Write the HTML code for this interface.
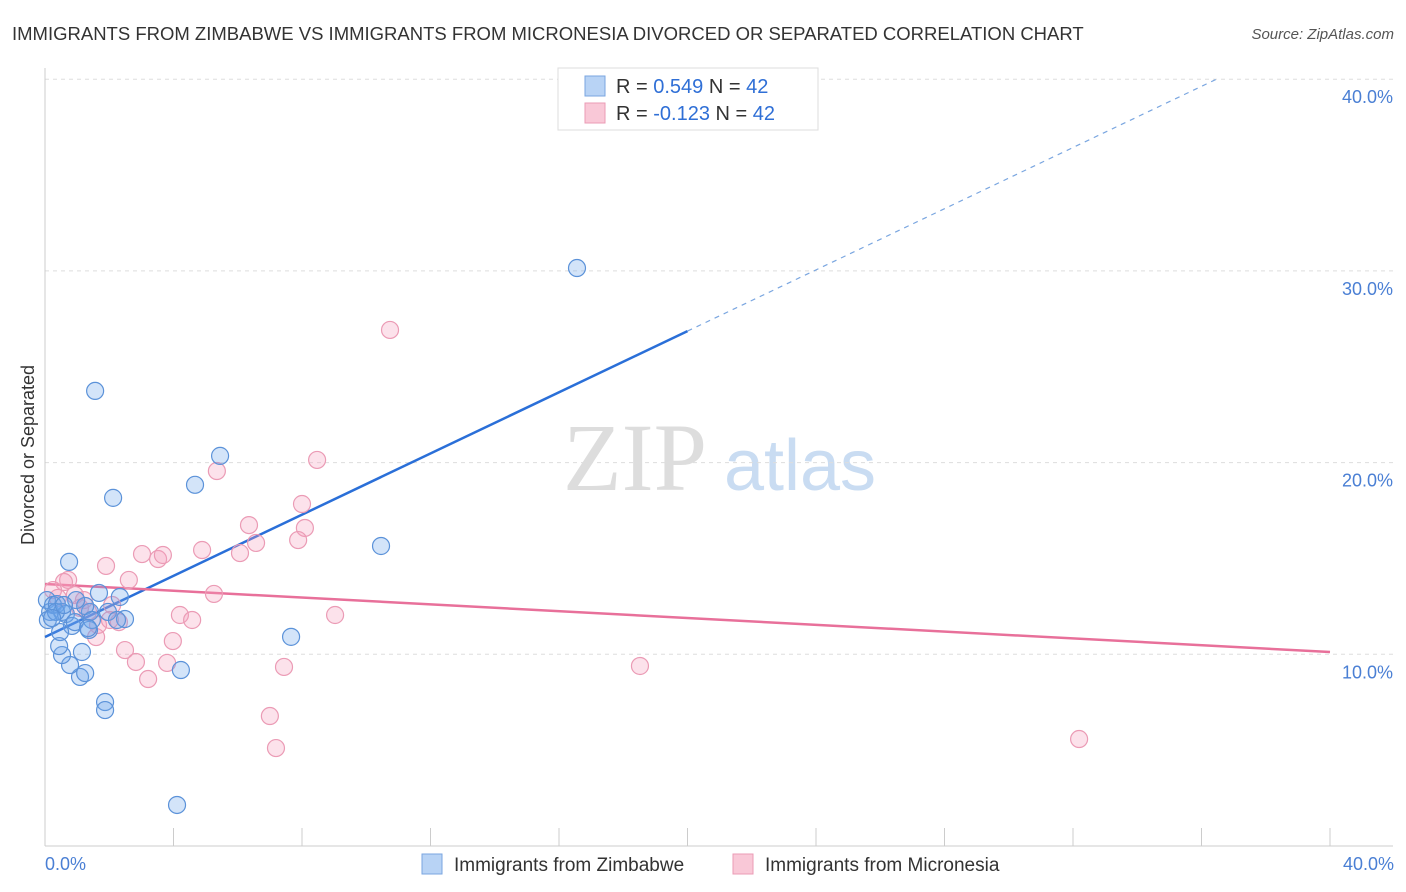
<!DOCTYPE html>
<html><head><meta charset="utf-8"><style>
body{margin:0;background:#fff;font-family:"Liberation Sans",sans-serif;}
svg{display:block}
</style></head><body>
<svg id="chart" width="1406" height="892">
<text x="12" y="40" font-size="18.5" fill="#333">IMMIGRANTS FROM ZIMBABWE VS IMMIGRANTS FROM MICRONESIA DIVORCED OR SEPARATED CORRELATION CHART</text>
<text x="1394" y="39" font-size="15" fill="#555" font-style="italic" text-anchor="end">Source: ZipAtlas.com</text>
<text transform="translate(34,455) rotate(-90)" font-size="18" fill="#333" text-anchor="middle">Divorced or Separated</text>
<g>
<text x="635" y="490" font-size="96" fill="#ddd" font-family="Liberation Serif,serif" text-anchor="middle">ZIP</text>
<text x="800" y="490" font-size="72" fill="#c9dcf2" text-anchor="middle">atlas</text>
</g>
<g id="grid"></g><g id="axes"></g><g id="lines"></g><g id="pts"></g>
<g>
<rect x="558" y="68" width="260" height="62" fill="#fff" stroke="#ddd"/>
<rect x="585" y="76" width="20" height="20" fill="#b8d3f5" stroke="#7aa6e0"/>
<rect x="585" y="103" width="20" height="20" fill="#f9c8d7" stroke="#eb9bb5"/>
<text x="616" y="93" font-size="20" fill="#333">R = <tspan fill="#2f6fd6">0.549</tspan>   N = <tspan fill="#2f6fd6">42</tspan></text>
<text x="616" y="120" font-size="20" fill="#333">R = <tspan fill="#2f6fd6">-0.123</tspan>   N = <tspan fill="#2f6fd6">42</tspan></text>
</g>
<g>
<rect x="422" y="854" width="20" height="20" fill="#b8d3f5" stroke="#7aa6e0"/>
<text x="454" y="871" font-size="19" fill="#333">Immigrants from Zimbabwe</text>
<rect x="733" y="854" width="20" height="20" fill="#f9c8d7" stroke="#eb9bb5"/>
<text x="765" y="871" font-size="19" fill="#333">Immigrants from Micronesia</text>
</g>
<text x="45" y="870" font-size="18" fill="#4a7fd4">0.0%</text>
<text x="1394" y="870" font-size="18" fill="#4a7fd4" text-anchor="end">40.0%</text>
</svg>
<script>
const blueX=[16.56,1.56,2.12,5.45,4.67,10.46,0.75,7.66,4.23,4.11,1.87,1.87,1.09,1.25,0.78,0.53,1.15,0.44,0.06,0.16,0.25,0.37,0.53,0.65,0.84,0.93,1.37,1.40,1.68,1.96,2.33,2.49,2.24,0.09,0.34,0.47,1.25,1.46,0.97,0.22,0.59,1.34];
const blueY=[30.15,23.74,18.16,20.35,18.84,15.65,14.82,10.91,9.18,2.14,7.51,7.09,8.82,9.02,9.44,9.96,10.12,10.43,12.83,12.21,12.57,12.62,12.21,12.10,11.48,11.68,11.27,12.21,13.20,12.21,12.99,11.84,11.79,11.79,12.21,11.16,12.52,11.79,12.83,11.89,12.57,11.37];
const pinkX=[10.74,8.47,5.35,8.00,6.35,8.09,6.57,7.88,6.07,3.02,3.52,3.67,4.89,1.90,2.61,0.72,0.59,0.25,0.93,5.26,4.20,4.58,9.03,2.09,1.21,1.65,1.59,2.49,3.98,2.83,3.80,3.21,7.44,7.00,7.19,18.52,32.19,2.30,0.40,1.34,1.09,2.02];
const pinkY=[26.92,20.14,19.56,17.84,16.74,16.59,15.81,15.96,15.28,15.23,14.97,15.18,15.44,14.61,13.88,13.88,13.77,13.35,13.09,13.15,12.05,11.79,12.05,12.57,12.83,11.53,10.90,10.22,10.69,9.60,9.55,8.71,9.34,6.78,5.11,9.39,5.58,11.68,12.94,12.21,12.42,11.79];
const yTicks=[10,20,30,40];
const yTickLabels=["10.0%","20.0%","30.0%","40.0%"];
const xTicks=[0,4,8,12,16,20,24,28,32,36,40];
const blueFit=[10.9,0.798]; // intercept, slope
const blueSolidEnd=20, blueDashEnd=36.5;
const pinkFit=[13.67,-0.0888];
const NS="http://www.w3.org/2000/svg";
const X=v=>45+v/40*1285, Y=v=>846-v*19.17;
function mk(tag,parent,attrs){const e=document.createElementNS(NS,tag);for(const k in attrs)e.setAttribute(k,attrs[k]);document.getElementById(parent).appendChild(e);return e;}
yTicks.forEach((t,i)=>{
 const l=mk('line','grid',{x1:45,x2:1393,y1:Y(t),y2:Y(t),stroke:'#ddd','stroke-dasharray':'4,4'});
 
 
 const tx=mk('text','grid',{x:1393,y:Y(t)+24,'font-size':18,fill:'#4a7fd4','text-anchor':'end'});
 tx.textContent=yTickLabels[i];
 
 
});
let a=mk('line','axes',{x1:45,x2:45,y1:68,y2:846,stroke:'#ccc'});


a=mk('line','axes',{x1:45,x2:1393,y1:846,y2:846,stroke:'#ccc'});


xTicks.forEach(t=>{const l=mk('line','axes',{x1:X(t),x2:X(t),y1:828,y2:846,stroke:'#ccc'});
 
 });
let ln=mk('line','lines',{x1:X(0),y1:Y(blueFit[0]),x2:X(blueSolidEnd),y2:Y(blueFit[0]+blueFit[1]*blueSolidEnd),stroke:'#2a6fd8','stroke-width':2.5});


ln=mk('line','lines',{x1:X(blueSolidEnd),y1:Y(blueFit[0]+blueFit[1]*blueSolidEnd),x2:X(blueDashEnd),y2:Y(blueFit[0]+blueFit[1]*blueDashEnd),stroke:'#7aa6e0','stroke-width':1.2,'stroke-dasharray':'5,5'});


ln=mk('line','lines',{x1:X(0),y1:Y(pinkFit[0]),x2:X(40),y2:Y(pinkFit[0]+pinkFit[1]*40),stroke:'#e8709a','stroke-width':2.5});


pinkX.forEach((v,i)=>{const c=mk('circle','pts',{cx:X(v),cy:Y(pinkY[i]),r:8.5,fill:'rgba(244,160,190,0.3)',stroke:'#eb9bb5','stroke-width':1.2});
 
 });
blueX.forEach((v,i)=>{const c=mk('circle','pts',{cx:X(v),cy:Y(blueY[i]),r:8.5,fill:'rgba(110,165,235,0.3)',stroke:'#5b92d9','stroke-width':1.2});
 
 });
</script>
</body></html>
